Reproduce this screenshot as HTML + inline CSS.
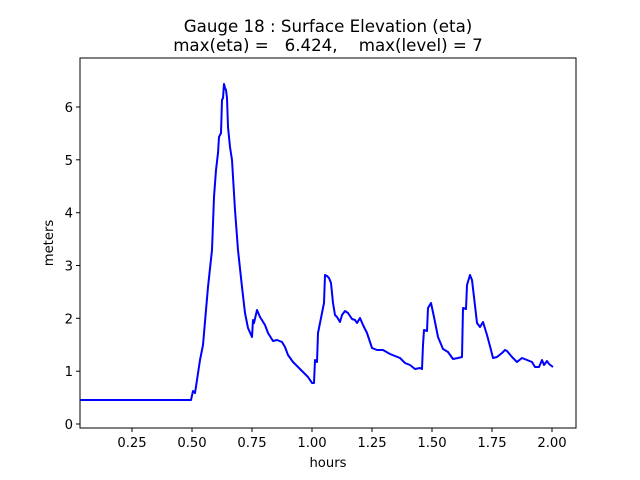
<!DOCTYPE html>
<html><head><style>body{margin:0;background:#fff}svg{display:block}text{font-family:"DejaVu Sans","Liberation Sans",sans-serif;fill:#000}</style></head><body>
<svg width="640" height="480" viewBox="0 0 640 480" xmlns="http://www.w3.org/2000/svg">
<rect width="640" height="480" fill="#fff"/>
<text x="328" y="32" font-size="16.67" text-anchor="middle">Gauge 18 : Surface Elevation (eta)</text>
<text x="328" y="51" font-size="16.67" text-anchor="middle" xml:space="preserve">max(eta) =   6.424,    max(level) = 7</text>
<polyline fill="none" stroke="#0000ff" stroke-width="2" stroke-linejoin="round" points="80,400 191,400 193,391 195,393 197,380 200,360 203,345 206,310 208,287 212,250 214,197 216,170 218,153 219,137 221,133 222,100 223,98 224,84 225,88 226,90 227,98 228,127 230,147 232,160 235,210 238,250 242,287 245,313 248,328 252,337 253,320 254,323 257,310 260,317 265,325 268,333 273,341 277,340 282,342 285,347 288,355 293,362 297,366 303,372 308,377 312,383 314,383 315,360 317,362 318,333 322,313 324,303 325,275 327,276 329,278 331,283 333,303 335,315 337,317 340,322 342,315 345,311 348,313 352,319 355,320 357,323 360,318 363,325 367,333 372,348 377,350 383,350 390,354 400,358 405,363 410,365 415,369 420,368 422,369 423,345 424,330 427,331 428,308 431,303 434,317 438,337 443,349 448,352 453,359 458,358 462,357 463,308 466,309 467,285 470,275 472,280 474,297 477,323 480,327 483,322 487,335 491,350 493,358 497,357 502,353 505,350 507,351 512,357 517,362 522,358 527,360 532,362 535,367 539,367 542,360 544,365 547,361 549,364 553,367"/>
<rect x="80" y="58" width="496" height="370" fill="none" stroke="#000" stroke-width="1"/>
<g stroke="#000" stroke-width="1">
<line x1="132" y1="428" x2="132" y2="432"/><line x1="192" y1="428" x2="192" y2="432"/><line x1="252" y1="428" x2="252" y2="432"/><line x1="312" y1="428" x2="312" y2="432"/><line x1="372" y1="428" x2="372" y2="432"/><line x1="432" y1="428" x2="432" y2="432"/><line x1="492" y1="428" x2="492" y2="432"/><line x1="552" y1="428" x2="552" y2="432"/>
<line x1="76" y1="424" x2="80" y2="424"/><line x1="76" y1="371.2" x2="80" y2="371.2"/><line x1="76" y1="318.3" x2="80" y2="318.3"/><line x1="76" y1="265.5" x2="80" y2="265.5"/><line x1="76" y1="212.7" x2="80" y2="212.7"/><line x1="76" y1="159.8" x2="80" y2="159.8"/><line x1="76" y1="107" x2="80" y2="107"/>
</g>
<g font-size="13.2" text-anchor="middle">
<text x="132" y="447">0.25</text><text x="192" y="447">0.50</text><text x="252" y="447">0.75</text><text x="312" y="447">1.00</text><text x="372" y="447">1.25</text><text x="432" y="447">1.50</text><text x="492" y="447">1.75</text><text x="552" y="447">2.00</text>
</g>
<g font-size="13.2" text-anchor="end">
<text x="73" y="429">0</text><text x="73" y="376.2">1</text><text x="73" y="323.3">2</text><text x="73" y="270.5">3</text><text x="73" y="217.7">4</text><text x="73" y="164.8">5</text><text x="73" y="112">6</text>
</g>
<text x="328" y="467" font-size="13.2" text-anchor="middle">hours</text>
<text x="53" y="243" font-size="13.2" text-anchor="middle" transform="rotate(-90 53 243)">meters</text>
</svg>
</body></html>
